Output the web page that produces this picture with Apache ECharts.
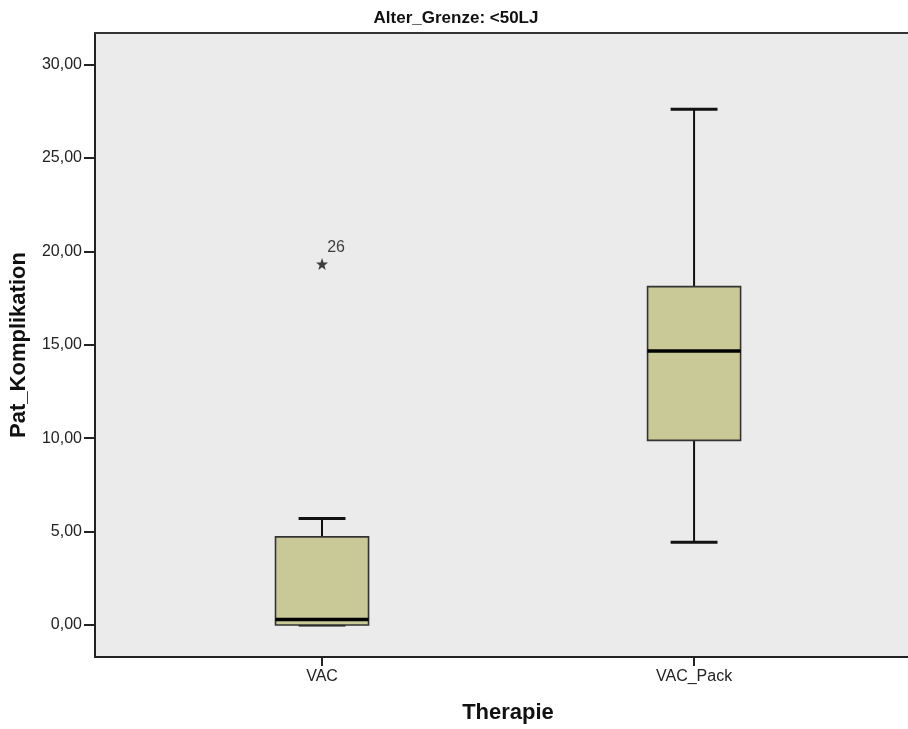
<!DOCTYPE html>
<html>
<head>
<meta charset="utf-8">
<script src="https://cdn.jsdelivr.net/npm/echarts@6/dist/echarts.min.js"></script>
<style>
html,body{margin:0;padding:0;background:#fff;}
#chart{width:908px;height:729px;}
</style>
</head>
<body>
<div id="chart"></div>
<script>
const categories = ['VAC', 'VAC_Pack'];
const whiskerLow = [0, 4.43];
const quartile1 = [0, 9.88];
const medians = [0.30, 14.67];
const quartile3 = [4.72, 18.11];
const whiskerHigh = [5.70, 27.6];
const outlierCategory = ['VAC'];
const outlierValues = [19.32];
const outlierLabels = ['26'];
const yTicks = [0, 5, 10, 15, 20, 25, 30];

const FONT = '"Liberation Sans", Arial, sans-serif';
const boxData = categories.map((c, i) => [i + 1, whiskerLow[i], quartile1[i], medians[i], quartile3[i], whiskerHigh[i]]);
const outData = outlierValues.map((v, i) => ({ value: [categories.indexOf(outlierCategory[i]) + 1, v], name: outlierLabels[i] }));

const X_MIN = 0.3898, X_MAX = 2.575;

const chart = echarts.init(document.getElementById('chart'));
chart.setOption({
  animation: false,
  backgroundColor: '#ffffff',
  title: {
    text: 'Alter_Grenze: <50LJ',
    left: 456, top: 10, padding: 0, textAlign: 'center',
    textStyle: { fontFamily: FONT, fontSize: 17, fontWeight: 'bold', color: '#111' }
  },
  grid: {
    left: 95, right: 0, top: 33, bottom: 71,
    show: true, backgroundColor: '#EBEBEB', borderWidth: 0
  },
  xAxis: [{
    type: 'value',
    min: X_MIN, max: X_MAX,
    name: 'Therapie', nameLocation: 'middle', nameGap: 45,
    nameTextStyle: { fontFamily: FONT, fontSize: 22, fontWeight: 'bold', color: '#111', padding: [0, 0, 0, 13] },
    axisLine: { show: true, onZero: false, lineStyle: { color: '#222', width: 2 } },
    axisTick: { show: true, customValues: [1, 2], length: 9, lineStyle: { color: '#222', width: 2 } },
    axisLabel: {
      customValues: [1, 2], margin: 12,
      formatter: v => categories[Math.round(v) - 1] || '',
      fontFamily: FONT, fontSize: 16, color: '#222'
    },
    splitLine: { show: false }
  }, {
    type: 'value', position: 'top',
    min: X_MIN, max: X_MAX,
    axisLine: { show: true, onZero: false, lineStyle: { color: '#333', width: 2 } },
    axisTick: { show: false }, axisLabel: { show: false }, splitLine: { show: false }
  }],
  yAxis: {
    type: 'value',
    min: -1.71, max: 31.68,
    name: 'Pat_Komplikation', nameLocation: 'middle', nameGap: 65,
    nameTextStyle: { fontFamily: FONT, fontSize: 22, fontWeight: 'bold', color: '#111' },
    axisLine: { show: true, onZero: false, lineStyle: { color: '#222', width: 2 } },
    axisTick: { show: true, customValues: yTicks, length: 11, lineStyle: { color: '#222', width: 2 } },
    axisLabel: {
      customValues: yTicks, margin: 13,
      formatter: v => v.toFixed(2).replace('.', ','),
      fontFamily: FONT, fontSize: 16, color: '#222'
    },
    splitLine: { show: false }
  },
  series: [
    {
      type: 'custom',
      xAxisIndex: 0,
      data: boxData,
      encode: { x: 0, y: [1, 2, 3, 4, 5] },
      renderItem: function (params, api) {
        const x = api.value(0);
        const pLow = api.coord([x, api.value(1)]);
        const pQ1 = api.coord([x, api.value(2)]);
        const pMed = api.coord([x, api.value(3)]);
        const pQ3 = api.coord([x, api.value(4)]);
        const pHigh = api.coord([x, api.value(5)]);
        const boxW = api.size([0.25, 0])[0];
        const capW = api.size([0.126, 0])[0];
        const cx = pMed[0];
        const ls = { stroke: '#111', lineWidth: 2 };
        return {
          type: 'group',
          children: [
            { type: 'line', shape: { x1: cx, y1: pHigh[1], x2: cx, y2: pQ3[1] }, style: ls },
            { type: 'line', shape: { x1: cx, y1: pQ1[1], x2: cx, y2: pLow[1] }, style: ls },
            { type: 'line', shape: { x1: cx - capW / 2, y1: pHigh[1], x2: cx + capW / 2, y2: pHigh[1] }, style: { stroke: '#111', lineWidth: 3 } },
            { type: 'line', shape: { x1: cx - capW / 2, y1: pLow[1], x2: cx + capW / 2, y2: pLow[1] }, style: { stroke: '#111', lineWidth: 3 } },
            { type: 'rect', shape: { x: cx - boxW / 2, y: pQ3[1], width: boxW, height: Math.max(pQ1[1] - pQ3[1], 0) },
              style: { fill: '#C9C998', stroke: '#333', lineWidth: 1.6 } },
            { type: 'line', shape: { x1: cx - boxW / 2, y1: pMed[1], x2: cx + boxW / 2, y2: pMed[1] }, style: { stroke: '#000', lineWidth: 3.5 } }
          ]
        };
      }
    },
    {
      type: 'scatter',
      xAxisIndex: 0,
      data: outData,
      symbol: 'path://M0,-10 L2.35,-3.24 L9.51,-3.09 L3.8,1.24 L5.88,8.09 L0,4 L-5.88,8.09 L-3.8,1.24 L-9.51,-3.09 L-2.35,-3.24 Z',
      symbolSize: 12,
      itemStyle: { color: '#111' },
      label: {
        show: true, formatter: '{b}', position: 'inside', offset: [14, -16],
        fontFamily: FONT, fontSize: 16, color: '#111'
      }
    }
  ]
});
</script>
</body>
</html>
